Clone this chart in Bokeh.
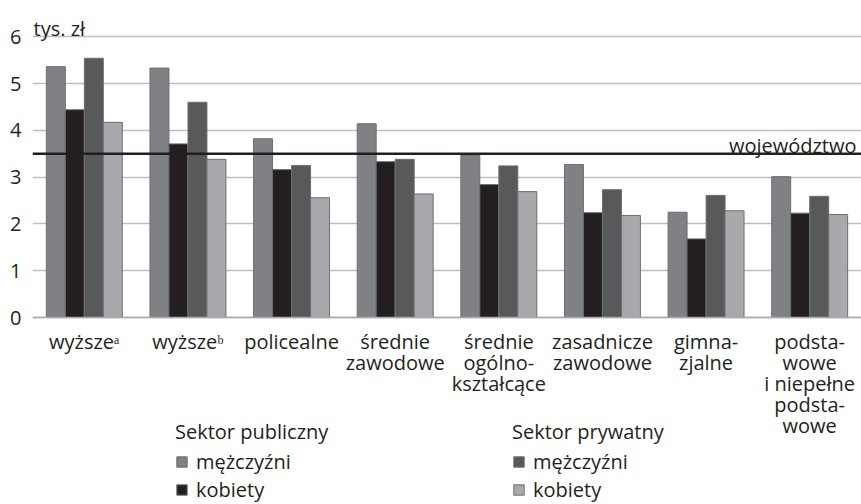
from bokeh.plotting import figure
from bokeh.models import (ColumnDataSource, FactorRange, Range1d, FixedTicker, Span, Label,
                          LabelSet, Legend, LegendItem)
from bokeh.core.properties import value
from bokeh.transform import dodge
from bokeh.embed import file_html
from bokeh.resources import INLINE

# ---- data ----
categories = ["wyższeᵃ", "wyższeᵇ", "policealne", "średnie zawodowe",
              "średnie ogólno-kształcące", "zasadnicze zawodowe", "gimna-zjalne",
              "podsta-wowe i niepełne podsta-wowe"]
category_lines = [["wyższeᵃ"], ["wyższeᵇ"], ["policealne"], ["średnie", "zawodowe"],
                  ["średnie", "ogólno-", "kształcące"], ["zasadnicze", "zawodowe"],
                  ["gimna-", "zjalne"], ["podsta-", "wowe", "i niepełne", "podsta-", "wowe"]]
pub_men = [5.36, 5.33, 3.82, 4.14, 3.46, 3.27, 2.25, 3.01]
pub_women = [4.44, 3.71, 3.16, 3.33, 2.84, 2.24, 1.68, 2.23]
prv_men = [5.54, 4.60, 3.25, 3.38, 3.24, 2.73, 2.61, 2.59]
prv_women = [4.17, 3.38, 2.56, 2.64, 2.69, 2.18, 2.28, 2.20]
wojewodztwo = 3.5
y_ticks = [0, 1, 2, 3, 4, 5, 6]
unit_label = "tys. zł"
line_label = "województwo"
legend_titles = ["Sektor publiczny", "Sektor prywatny"]
item_labels = ["mężczyźni", "kobiety"]

FONT = "Open Sans"
TXT = "#231F20"
colors = ["#808184", "#231F20", "#58595B", "#A7A9AC"]
LINE_PITCH = 21
FIRST_LINE = 24

src = ColumnDataSource(dict(cat=categories, pm=pub_men, pw=pub_women, rm=prv_men, rw=prv_women))

# one row per text line of each category label
lab_cat, lab_txt, lab_off = [], [], []
for c, lines in zip(categories, category_lines):
    for i, t in enumerate(lines):
        lab_cat.append(c)
        lab_txt.append(t)
        lab_off.append(-(FIRST_LINE + LINE_PITCH * i))
lab_src = ColumnDataSource(dict(cat=lab_cat, txt=lab_txt, yoff=lab_off, base=[0] * len(lab_cat)))

# frame covers the whole lower area so the category texts and legends can sit below the 0 line
p = figure(width=861, height=504, output_backend="svg", toolbar_location=None,
           x_range=FactorRange(*categories, range_padding=0), y_range=Range1d(-3.996, 6.774),
           min_border_left=32, min_border_right=0, min_border_top=0, min_border_bottom=0)
p.outline_line_color = None
p.background_fill_color = "white"
p.border_fill_color = "white"

bw = 0.183
offs = [-0.275, -0.092, 0.092, 0.275]
rends = []
for col, off, c in zip(["pm", "pw", "rm", "rw"], offs, colors):
    r = p.vbar(x=dodge("cat", off, range=p.x_range), top=col, bottom=0, width=bw, source=src,
               fill_color=c, line_color="#6D6E71", line_width=1)
    rends.append(r)

p.add_layout(Span(location=0, dimension="width", line_color="#A7A9AC", line_width=1.5))
p.add_layout(Span(location=wojewodztwo, dimension="width", line_color=TXT, line_width=2.5))
p.add_layout(Label(x=len(categories), y=wojewodztwo, text=line_label, text_align="right",
                   text_baseline="alphabetic", x_offset=-5, y_offset=8,
                   text_font=FONT, text_font_size="20px", text_color=TXT))
p.add_layout(Label(x=0, y=6, text=unit_label, text_align="left", text_baseline="alphabetic",
                   x_offset=1, y_offset=8, text_font=FONT, text_font_size="20px", text_color=TXT))

# category texts under the 0 line, placed through the categorical scale
p.add_layout(LabelSet(x="cat", y="base", text="txt", source=lab_src, text_align="center",
                      text_baseline="middle", y_offset="yoff", text_font=value(FONT),
                      text_font_size=value("20px"), text_color=TXT))

p.xgrid.grid_line_color = None
p.ygrid.grid_line_color = "#BCBEC0"
p.ygrid.grid_line_width = 1.5
p.yaxis.ticker = FixedTicker(ticks=y_ticks)
p.ygrid.ticker = FixedTicker(ticks=y_ticks)
p.yaxis.axis_line_color = None
p.yaxis.major_tick_line_color = None
p.yaxis.minor_tick_line_color = None
p.yaxis.major_tick_out = 0
p.yaxis.major_tick_in = 0
p.yaxis.major_label_text_font = FONT
p.yaxis.major_label_text_font_size = "20px"
p.yaxis.major_label_text_color = TXT
p.yaxis.major_label_standoff = 11
p.xaxis.visible = False


def make_legend(title, r1, r2, loc):
    lg = Legend(items=[LegendItem(label=item_labels[0], renderers=[r1]),
                       LegendItem(label=item_labels[1], renderers=[r2])],
                title=title, location=loc, orientation="vertical")
    lg.title_text_font = FONT
    lg.title_text_font_size = "20px"
    lg.title_text_color = TXT
    lg.title_text_font_style = "normal"
    lg.title_standoff = 3
    lg.label_text_font = FONT
    lg.label_text_font_size = "20px"
    lg.label_text_color = TXT
    lg.glyph_width = 13
    lg.glyph_height = 13
    lg.label_standoff = 8
    lg.spacing = 1
    lg.padding = 0
    lg.margin = 0
    lg.border_line_alpha = 0
    lg.background_fill_alpha = 0
    return lg

p.add_layout(make_legend(legend_titles[0], rends[0], rends[1], (143, 1)))
p.add_layout(make_legend(legend_titles[1], rends[2], rends[3], (480, 1)))

open("out.html", "w").write(file_html(p, INLINE))
